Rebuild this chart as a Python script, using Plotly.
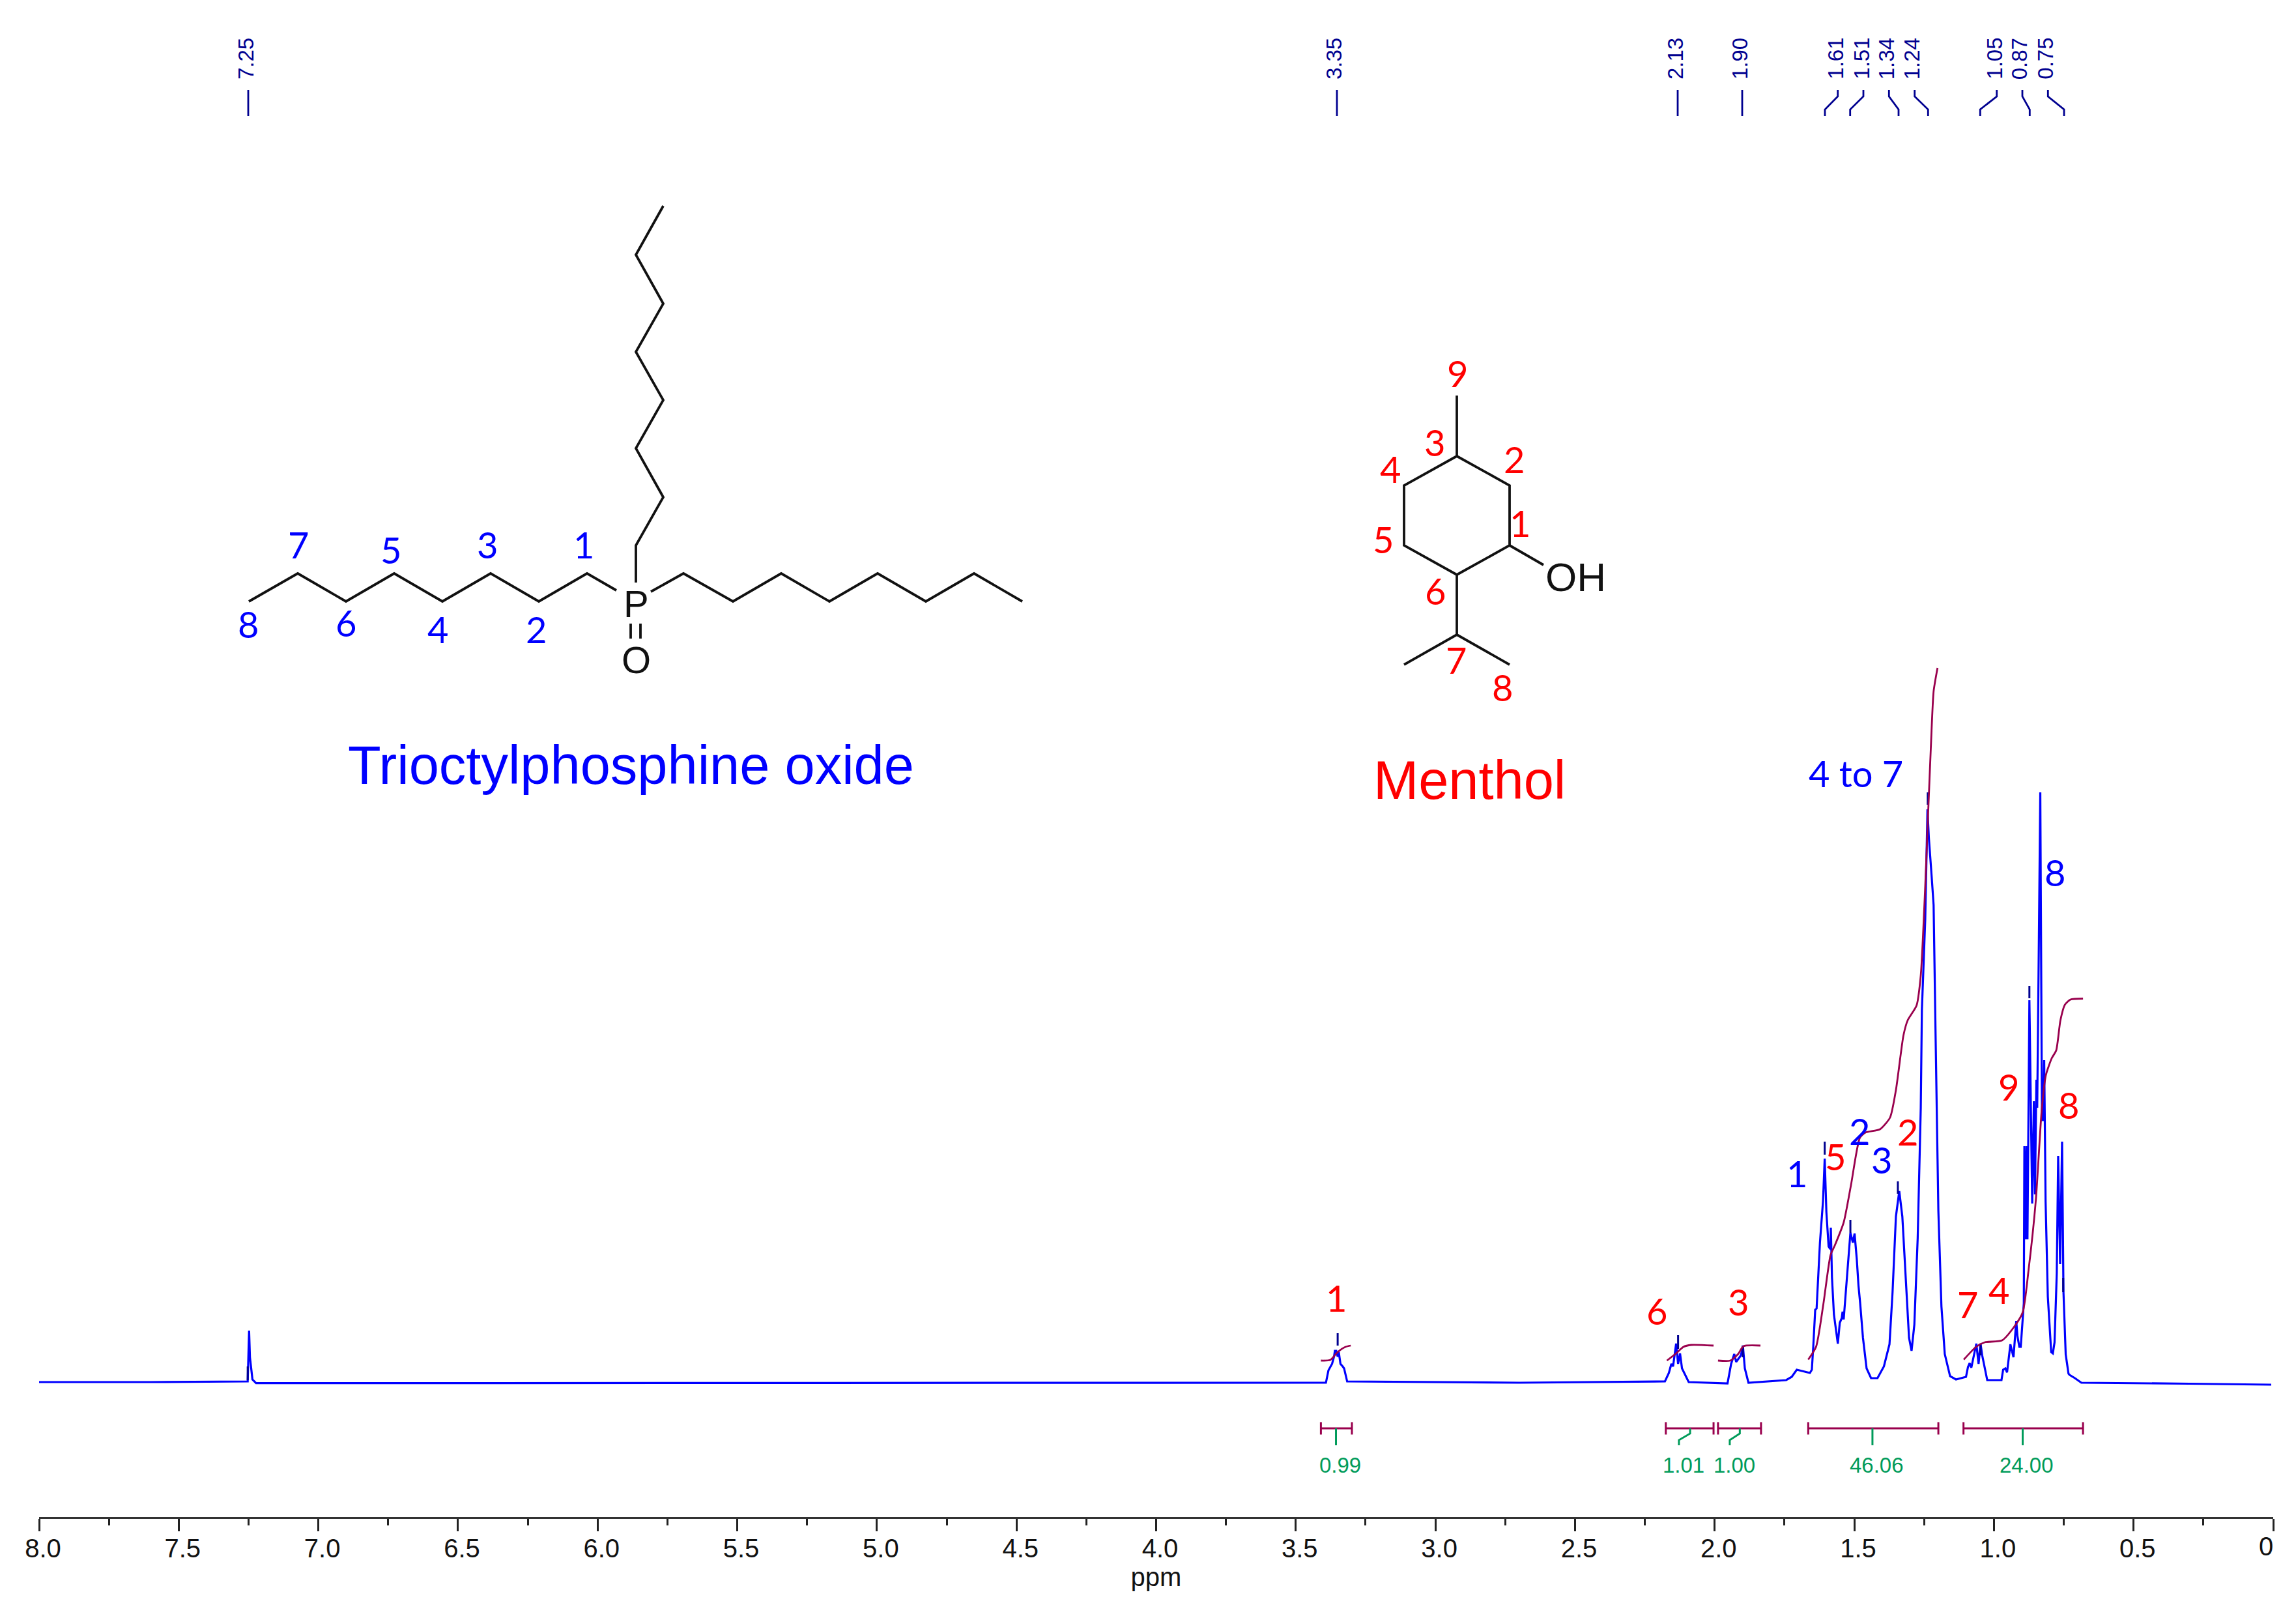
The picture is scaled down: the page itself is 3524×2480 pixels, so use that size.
import plotly.graph_objects as go

# ---------- spectrum (chemical shift ppm / intensity above baseline) ----------
spectrum_ppm = [8.000, 7.600, 7.253, 7.248, 7.245, 7.236, 7.223, 5.500, 3.392, 3.383, 3.376, 3.370, 3.363, 3.360, 3.355, 3.350, 3.346, 3.340, 3.332, 3.327, 3.316,
                2.700, 2.178, 2.164, 2.155, 2.149, 2.138, 2.131, 2.124, 2.117, 2.093, 1.954, 1.941, 1.930, 1.923, 1.906, 1.899,
                1.892, 1.879, 1.841, 1.744, 1.724, 1.706, 1.659, 1.652, 1.647, 1.640, 1.635, 1.623, 1.612, 1.606, 1.600, 1.592,
                1.586, 1.584, 1.580, 1.573, 1.559, 1.552, 1.545, 1.542, 1.538, 1.531, 1.527, 1.522, 1.514, 1.505, 1.499, 1.491,
                1.485, 1.479, 1.469, 1.456, 1.440, 1.417, 1.394, 1.374, 1.363, 1.351, 1.339, 1.328, 1.316, 1.304, 1.295, 1.285,
                1.273, 1.262, 1.258, 1.246, 1.238, 1.233, 1.223, 1.216, 1.209, 1.199, 1.188, 1.176, 1.157, 1.136, 1.100, 1.093,
                1.087, 1.081, 1.063, 1.055, 1.048, 1.042, 1.024, 0.973, 0.967, 0.959, 0.953, 0.941, 0.930, 0.920, 0.916, 0.909,
                0.904, 0.893, 0.891, 0.887, 0.883, 0.880, 0.873, 0.863, 0.857, 0.853, 0.848, 0.845, 0.839, 0.834, 0.828, 0.824,
                0.820, 0.815, 0.807, 0.795, 0.789, 0.783, 0.775, 0.770, 0.763, 0.756, 0.751, 0.743, 0.733, 0.729, 0.710, 0.687,
                0.300, 0.007]
spectrum_int = [4, 4, 5, 83, 42, 8, 2.3, 2.5, 3, 22, 27, 32, 43, 52, 52, 43, 50, 32, 28, 25, 5,
                3, 5, 18, 32, 28, 63, 32, 48, 25, 4, 2, 32, 47, 35, 45, 60,
                25, 3, 4, 7, 12, 23, 18, 23, 58, 115, 117, 218, 282, 347, 265, 212,
                208, 241, 165, 108, 63, 95, 102, 112, 100, 142, 162, 185, 233, 218, 232, 192,
                152, 125, 72, 25, 10, 10, 28, 62, 142, 258, 297, 258, 158, 72, 52, 92,
                225, 425, 575, 714, 883, 839, 780, 736, 538, 267, 120, 47, 13, 8, 12, 27,
                33, 26, 63, 32, 63, 45, 7, 7, 23, 25, 19, 62, 42, 98, 75, 58,
                58, 125, 366, 223, 366, 223, 590, 278, 435, 292, 468, 425, 685, 909, 406, 406,
                498, 281, 135, 50, 48, 65, 171, 351, 185, 373, 142, 46.5, 17, 15, 10, 3,
                1.5, 0]

# ---------- integral curves ----------
integral_a_ppm = [3.410, 3.376, 3.350, 3.322, 3.303]
integral_a_int = [37, 38, 50, 58, 60]
integral_b_ppm = [2.171, 2.138, 2.112, 2.084, 2.004]
integral_b_int = [37, 48, 58, 61, 60]
integral_c_ppm = [1.988, 1.944, 1.916, 1.897, 1.836]
integral_c_int = [37, 37, 47, 59, 60]
integral_d_ppm = [1.665, 1.637, 1.611, 1.585, 1.569, 1.538, 1.512, 1.480, 1.460, 1.408, 1.372, 1.351, 1.324, 1.309, 1.277,
                  1.262, 1.246, 1.236, 1.225, 1.216, 1.202]
integral_d_int = [38.5, 58, 123, 199, 214.5, 249, 306, 379, 387, 392, 410, 452, 536, 559, 582,
                  628, 765, 873, 987, 1064, 1100]
integral_e_ppm = [1.108, 1.064, 1.033, 0.971, 0.929, 0.897, 0.876, 0.850, 0.829, 0.814, 0.793, 0.777, 0.762, 0.746, 0.726, 0.681]
integral_e_int = [38.5, 58, 65, 68, 88, 111, 176, 283, 421, 475, 501, 513, 559, 583, 591, 592.5]

# ---------- integral regions and values ----------
region_start = [3.410, 2.175, 1.988, 1.665, 1.109]
region_end = [3.299, 2.004, 1.834, 1.199, 0.681]
region_value = ["0.99", "1.01", "1.00", "46.06", "24.00"]
region_label_ppm = [3.342, 2.112, 1.930, 1.419, 0.883]
region_link_top = [3.356, 2.088, 1.910, 1.435, 0.897]
region_link_bottom = [3.356, 2.128, 1.946, 1.435, 0.897]

# ---------- picked peaks ----------
peak_ppm = [7.253, 3.350, 2.131, 1.899, 1.606, 1.514, 1.344, 1.237, 1.048, 0.873, 0.752]
peak_mark_top = [28, 79, 76, 60, 373, 253, 312, 909, 63, 612, 164]
peak_mark_bottom = [7, 60, 55, 42, 353, 233, 293, 890, 45, 593, 142]
peak_labels = ["7.25", "3.35", "2.13", "1.90", "1.61", "1.51", "1.34", "1.24", "1.05", "0.87", "0.75"]

# ---------- axis ----------
major_ticks = [8.0, 7.5, 7.0, 6.5, 6.0, 5.5, 5.0, 4.5, 4.0, 3.5, 3.0, 2.5, 2.0, 1.5, 1.0, 0.5, 0.0]
major_labels = ["8.0", "7.5", "7.0", "6.5", "6.0", "5.5", "5.0", "4.5", "4.0", "3.5", "3.0", "2.5", "2.0", "1.5", "1.0", "0.5", ""]
zero_label = "0"
minor_ticks = [7.75, 7.25, 6.75, 6.25, 5.75, 5.25, 4.75, 4.25, 3.75, 3.25, 2.75, 2.25, 1.75, 1.25, 0.75, 0.25]

# ---------- label leader lines at the top (page units) ----------
leader_top_x = [377.5, 2047, 2571, 2670, 2820.7, 2860, 2899.3, 2938.7, 3064.7, 3104, 3143.3]
leader_bottom_x = [381, 2052, 2575, 2674, 2801, 2839.7, 2914, 2959.3, 3039.3, 3115.3, 3168]
leader_label_x = [377, 2047, 2571, 2670, 2816.7, 2856.7, 2895.3, 2934.3, 3060.7, 3099.3, 3138.7]

# ---------- spectrum assignments ----------
blue_assign = ["4 to 7", "1", "2", "3", "8"]
blue_assign_ppm = [1.494, 1.705, 1.482, 1.403, 0.781]
blue_assign_int = [939, 325, 390, 346, 787]
red_assign = ["1", "6", "3", "5", "2", "9", "8", "7", "4"]
red_assign_ppm = [3.356, 2.207, 1.915, 1.568, 1.310, 0.947, 0.733, 1.095, 0.982]
red_assign_int = [134, 114, 128, 351, 389, 458, 430, 124, 146]

# ---------- trioctylphosphine oxide drawing (page units) ----------
chain_left_x = [382, 457, 531, 605, 679, 753, 827, 901, 946]
chain_left_y = [923, 880, 923, 880, 923, 880, 923, 880, 906]
chain_right_x = [999, 1049, 1125, 1199, 1273, 1347, 1421, 1495, 1569]
chain_right_y = [908, 880, 923, 880, 923, 880, 923, 880, 923]
chain_up_x = [976, 976, 1018, 976, 1018, 976, 1018, 976, 1018]
chain_up_y = [894, 837, 763, 688, 614, 540, 466, 391, 316]
oxo_a_x = [968, 968]
oxo_b_x = [983, 983]
oxo_y = [957, 980]
topo_numbers = ["7", "5", "3", "1", "8", "6", "4", "2"]
topo_number_x = [458, 600, 748, 896, 381, 531, 672, 823]
topo_number_y = [835, 843, 835, 835, 957, 955, 965, 965]

# ---------- menthol drawing (page units) ----------
ring_x = [2236, 2317, 2317, 2236, 2155, 2155, 2236]
ring_y = [700, 745, 837, 882, 837, 745, 700]
methyl_x = [2236, 2236]
methyl_y = [700, 607]
hydroxyl_x = [2317, 2369]
hydroxyl_y = [837, 867]
isopropyl_stem_x = [2236, 2236]
isopropyl_stem_y = [882, 974]
isopropyl_arm_x = [2155, 2236, 2317]
isopropyl_arm_y = [1020, 974, 1020]
menthol_numbers = ["9", "3", "2", "4", "1", "5", "6", "7", "8"]
menthol_number_x = [2237, 2202, 2324, 2134, 2333, 2123, 2203, 2235, 2306]
menthol_number_y = [572, 678, 704, 719, 802, 827, 906, 1012, 1054]

# ---------- styles ----------
W, H = 3524, 2480
BLUE = "#0000ff"
RED = "#ff0000"
NAVY = "#000090"
MAROON = "#99004d"
GREEN = "#009b5a"
INK = "#111111"
SANS = "Liberation Sans, Arial, sans-serif"
HAND = "Lato, sans-serif"
BASE_PX, AXIS_PX = 2125, 2329
X0_PX, X1_PX = 60, 3489

fig = go.Figure()


def spec(x, y, color, width, name, shape="linear"):
    fig.add_trace(go.Scatter(x=x, y=y, mode="lines", name=name, hoverinfo="skip",
                             line=dict(color=color, width=width, shape=shape, smoothing=0.6)))


def page(x, y, color, width, name):
    fig.add_trace(go.Scatter(x=x, y=y, xaxis="x2", yaxis="y2", mode="lines", name=name, hoverinfo="skip",
                             line=dict(color=color, width=width)))


spec(spectrum_ppm, spectrum_int, BLUE, 3.2, "spectrum")

mark_x, mark_y = [], []
for p, t, b in zip(peak_ppm, peak_mark_top, peak_mark_bottom):
    mark_x += [p, p, None]
    mark_y += [t, b, None]
spec(mark_x, mark_y, NAVY, 3, "peak marks")

for n, (ix, iy) in zip("abcde", [(integral_a_ppm, integral_a_int), (integral_b_ppm, integral_b_int),
                                 (integral_c_ppm, integral_c_int), (integral_d_ppm, integral_d_int),
                                 (integral_e_ppm, integral_e_int)]):
    spec(ix, iy, MAROON, 2.8, "integral " + n, "spline")

BR, CAP, LINK_A, LINK_B, LINK_END = -67, 9.5, -75, -85, -93
bx, by = [], []
for s, e in zip(region_start, region_end):
    bx += [s, s, None, s, e, None, e, e, None]
    by += [BR - CAP, BR + CAP, None, BR, BR, None, BR - CAP, BR + CAP, None]
spec(bx, by, MAROON, 3, "integral regions")

gx, gy = [], []
for t, b in zip(region_link_top, region_link_bottom):
    gx += [t, t, b, b, None]
    gy += [BR, LINK_A, LINK_B, LINK_END, None]
spec(gx, gy, GREEN, 3, "integral links")

# top leaders
lx, ly = [], []
for t, b in zip(leader_top_x, leader_bottom_x):
    if abs(t - b) < 6:
        lx += [b, b, None]
        ly += [138, 178, None]
    else:
        lx += [t, t, b, b, None]
        ly += [138, 148, 168, 178, None]
page(lx, ly, NAVY, 2.8, "peak leaders")

# structures
BOND = 3.8
page(chain_left_x, chain_left_y, INK, BOND, "octyl 1")
page(chain_right_x, chain_right_y, INK, BOND, "octyl 2")
page(chain_up_x, chain_up_y, INK, BOND, "octyl 3")
page(oxo_a_x, oxo_y, INK, BOND, "P=O a")
page(oxo_b_x, oxo_y, INK, BOND, "P=O b")
page(ring_x, ring_y, INK, BOND, "ring")
page(methyl_x, methyl_y, INK, BOND, "methyl")
page(hydroxyl_x, hydroxyl_y, INK, BOND, "hydroxyl")
page(isopropyl_stem_x, isopropyl_stem_y, INK, BOND, "isopropyl stem")
page(isopropyl_arm_x, isopropyl_arm_y, INK, BOND, "isopropyl arms")

ann = []


def note(text, x, y, size, color, family=SANS, ref="page", angle=0):
    refs = dict(xref="x2", yref="y2") if ref == "page" else dict(xref="x", yref="y")
    ann.append(dict(text=text, x=x, y=y, showarrow=False, xanchor="center", yanchor="middle", textangle=angle,
                    font=dict(size=size, color=color, family=family), **refs))


for t, x, y in zip(topo_numbers, topo_number_x, topo_number_y):
    note(t, x, y, 56, BLUE, HAND)
for t, x, y in zip(menthol_numbers, menthol_number_x, menthol_number_y):
    note(t, x, y, 56, RED, HAND)
for t, x, y in zip(blue_assign, blue_assign_ppm, blue_assign_int):
    note(t, x, y, 56, BLUE, HAND, "data")
for t, x, y in zip(red_assign, red_assign_ppm, red_assign_int):
    note(t, x, y, 56, RED, HAND, "data")
for t, x in zip(region_value, region_label_ppm):
    note(t, x, -123, 33, GREEN, SANS, "data")
for t, x in zip(peak_labels, leader_label_x):
    note(t, x, 90, 33, NAVY, SANS, "page", -90)
note("P", 976, 926, 58, INK)
note("O", 976, 1012, 58, INK)
note("OH", 2418, 885, 62, INK)
note("Trioctylphosphine oxide", 968, 1174, 83, BLUE)
note("Menthol", 2255, 1197, 83, RED)
note(zero_label, 3478, 2373, 40, "#111111")

fig.update_layout(
    width=W, height=H, margin=dict(l=0, r=0, t=0, b=0), autosize=False,
    paper_bgcolor="white", plot_bgcolor="rgba(0,0,0,0)", showlegend=False, annotations=ann,
    xaxis=dict(domain=[X0_PX / W, X1_PX / W], range=[8, 0], anchor="free", position=1 - AXIS_PX / H,
               tickvals=major_ticks, ticktext=major_labels, ticks="outside", ticklen=19, tickwidth=2.6,
               tickcolor="#222222", showline=True, linecolor="#333333", linewidth=3, showgrid=False, zeroline=False,
               tickfont=dict(family=SANS, size=40, color="#111111"), ticklabelshift=-6, ticklabelstandoff=-8,
               minor=dict(tickvals=minor_ticks, ticks="outside", ticklen=10, tickwidth=2.6, tickcolor="#222222", showgrid=False),
               title=dict(text="ppm", standoff=6, font=dict(family=SANS, size=40, color="#111111")),
               automargin=False),
    yaxis=dict(domain=[0, 1], range=[BASE_PX - H, BASE_PX], visible=False, fixedrange=True),
    xaxis2=dict(domain=[0, 1], range=[0, W], visible=False, anchor="y2"),
    yaxis2=dict(domain=[0, 1], range=[H, 0], visible=False, anchor="x2"),
)

fig.write_html("out.html", config={"displayModeBar": False}, post_script="document.body.style.margin='0';")
